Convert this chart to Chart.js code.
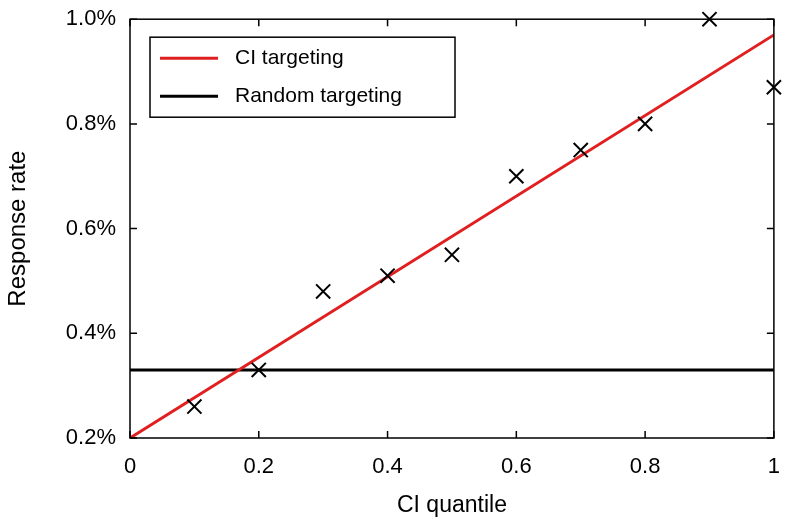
<!DOCTYPE html>
<html>
<head>
<script src="https://cdn.jsdelivr.net/npm/chart.js@4/dist/chart.umd.min.js"></script>
<style>body{margin:0;background:#fff}</style>
</head>
<body>
<canvas id="main" width="788" height="523"></canvas>
<script>
// Data
const quantiles = [0.1, 0.2, 0.3, 0.4, 0.5, 0.6, 0.7, 0.8, 0.9, 1.0]
const responseRates = [0.26, 0.33, 0.48, 0.51, 0.55, 0.70, 0.75, 0.80, 1.0, 0.87]
const ciFitX = [0, 1]
const ciFitY = [0.2, 0.97]
const randomRate = 0.33
const legendLabels = ['CI targeting', 'Random targeting']

const font = 'Liberation Sans, Arial, sans-serif'

// box around plot + inside legend
const boxPlugin = {
    id: 'box',
    afterDraw(chart){
        const c = chart.ctx, a = chart.chartArea
        c.save()
        c.strokeStyle = '#000'
        c.lineWidth = 1.5
        c.strokeRect(a.left, a.top, a.right - a.left, a.bottom - a.top)
        // inward ticks
        const xs = chart.scales.x, ys = chart.scales.y
        for (let v = 0; v <= 1.0001; v += 0.2) {
            const px = xs.getPixelForValue(v)
            c.beginPath(); c.moveTo(px, a.bottom); c.lineTo(px, a.bottom - 7)
            c.moveTo(px, a.top); c.lineTo(px, a.top + 7); c.stroke()
        }
        for (let v = 0.2; v <= 1.0001; v += 0.2) {
            const py = ys.getPixelForValue(v)
            c.beginPath(); c.moveTo(a.left, py); c.lineTo(a.left + 7, py)
            c.moveTo(a.right, py); c.lineTo(a.right - 7, py); c.stroke()
        }
        // legend
        const lx = a.left + 20, ly = a.top + 18
        c.fillStyle = '#fff'
        c.fillRect(lx, ly, 305, 80)
        c.strokeRect(lx, ly, 305, 80)
        const colors = ['#e02020', '#000']
        c.font = '21px ' + font
        c.textBaseline = 'middle'
        legendLabels.forEach(function(t, i){
            const yy = ly + 21 + i * 38
            c.strokeStyle = colors[i]; c.lineWidth = 3
            c.beginPath(); c.moveTo(lx + 10, yy); c.lineTo(lx + 68, yy); c.stroke()
            c.fillStyle = '#000'
            c.fillText(t, lx + 85, yy)
        })
        c.restore()
    }
}

new Chart('main', {
    type: 'scatter',
    data: {
        datasets: [
            {
                label: 'Observed',
                data: quantiles.map(function(q, i){ return {x: q, y: responseRates[i]} }),
                pointStyle: 'crossRot',
                pointRadius: 10,
                borderColor: '#000',
                borderWidth: 2,
                showLine: false,
                clip: false,
                order: 0
            },
            {
                label: legendLabels[0],
                data: ciFitX.map(function(x, i){ return {x: x, y: ciFitY[i]} }),
                showLine: true,
                borderColor: '#e02020',
                borderWidth: 3,
                pointRadius: 0,
                order: 1
            },
            {
                label: legendLabels[1],
                data: [{x: 0, y: randomRate}, {x: 1, y: randomRate}],
                showLine: true,
                borderColor: '#000',
                borderWidth: 3,
                pointRadius: 0,
                order: 2
            }
        ]
    },
    options: {
        responsive: false,
        animation: false,
        layout: { padding: { top: 14, right: 12 } },
        scales: {
            x: {
                min: 0, max: 1,
                afterFit: function(s){ s.height = 85 },
                grid: { display: false },
                border: { display: false },
                ticks: {
                    stepSize: 0.2, color: '#000', padding: 8,
                    font: { family: font, size: 22 },
                    callback: function(v){ return Math.abs(v) < 1e-9 ? '0' : (v === 1 ? '1' : v.toFixed(1)) }
                },
                title: { display: true, text: 'CI quantile', color: '#000', font: { family: font, size: 23 } }
            },
            y: {
                min: 0.2, max: 1.0,
                afterFit: function(s){ s.width = 130 },
                grid: { display: false },
                border: { display: false },
                ticks: {
                    stepSize: 0.2, color: '#000', padding: 6,
                    font: { family: font, size: 22 },
                    callback: function(v){ return v.toFixed(1) + '%' }
                },
                title: { display: true, text: 'Response rate', color: '#000', font: { family: font, size: 24 } }
            }
        },
        plugins: { legend: { display: false }, tooltip: { enabled: false } }
    },
    plugins: [boxPlugin]
})
</script>
</body>
</html>
